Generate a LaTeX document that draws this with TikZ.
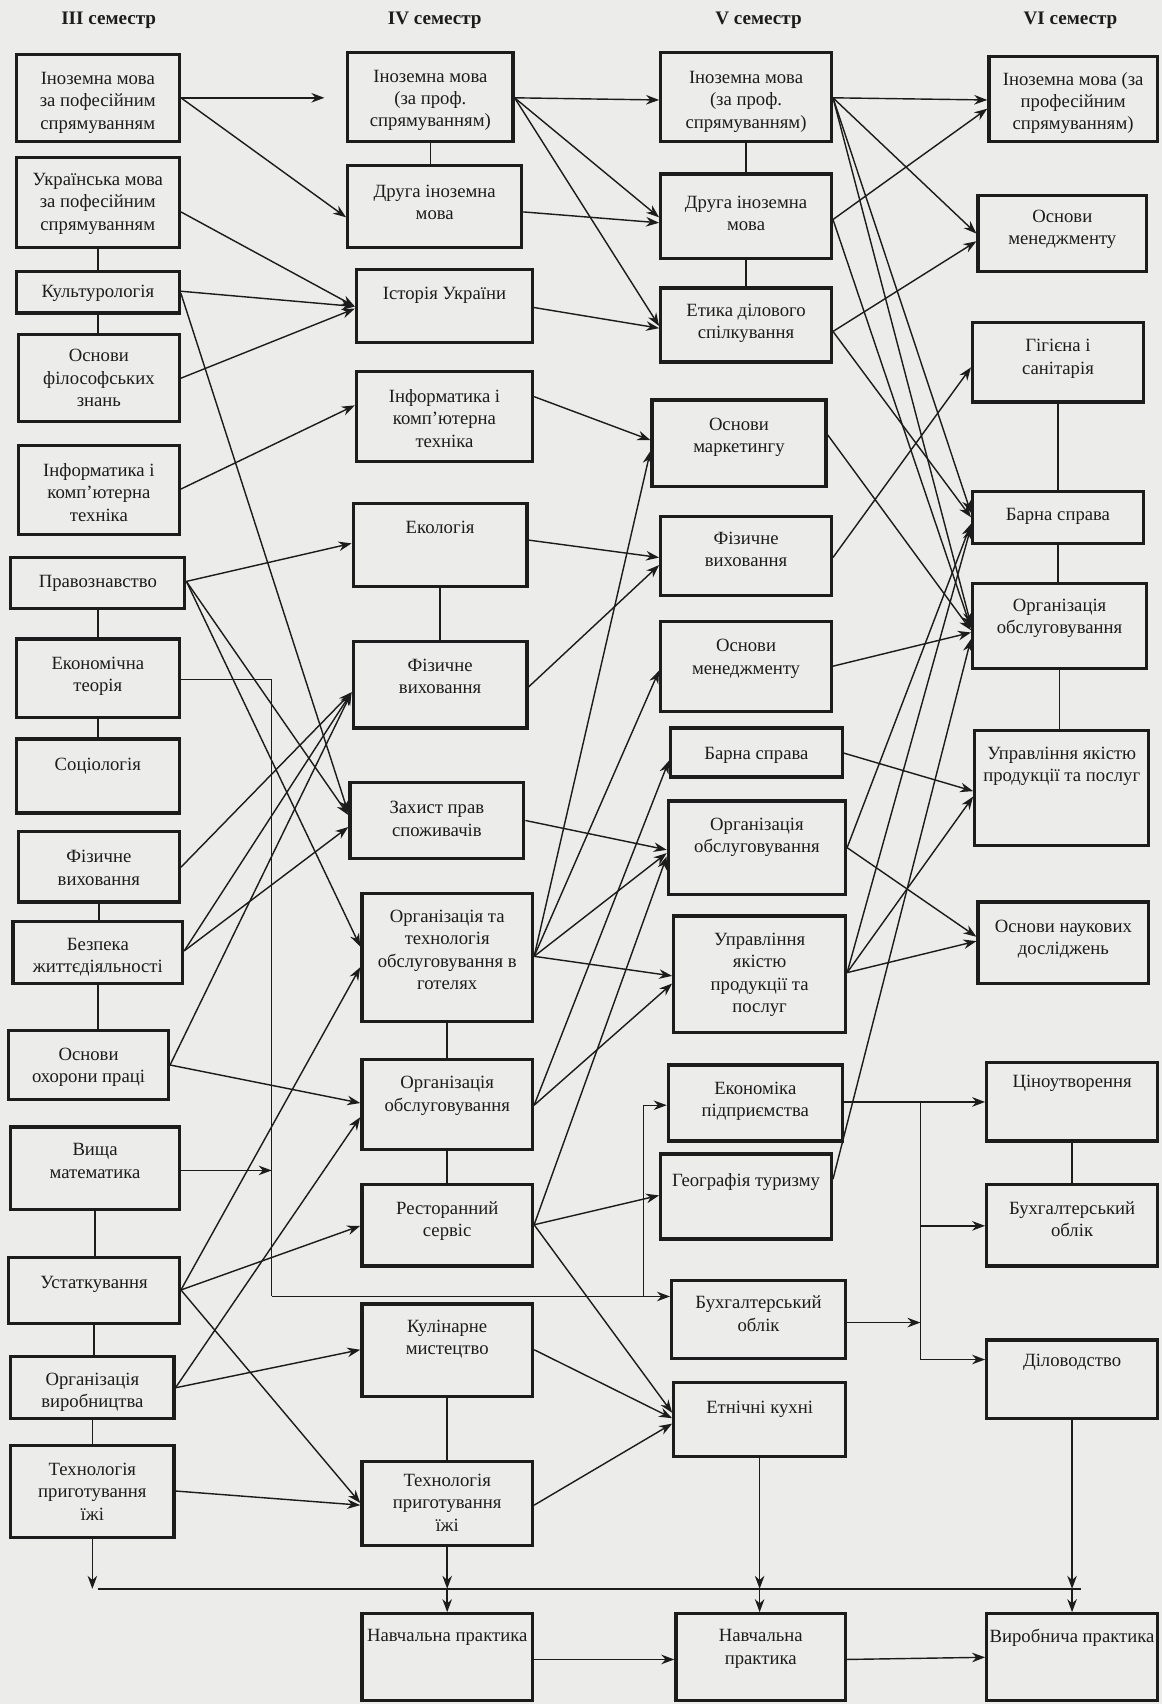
\documentclass[tikz,border=0pt]{standalone}
\usepackage{fontspec}
\setmainfont{Liberation Serif}
\usetikzlibrary{arrows.meta,calc}
\definecolor{bg}{RGB}{236,236,234}
\definecolor{ink}{RGB}{28,28,28}
\tikzset{
 box/.style={draw=ink, line width=1.5pt, inner sep=0pt, fill=bg, text=ink},
 arr/.style={draw=ink, line width=0.65pt, -{Stealth[length=6pt,width=4.4pt]}},
 link/.style={draw=ink, line width=0.65pt},
 hdr/.style={font=\bfseries\fontsize{8.8pt}{10pt}\selectfont, text=ink},
}
\newcommand\mybox[7]{%
 \pgfmathsetmacro\bw{(#4-#2)*0.5}%
 \pgfmathsetmacro\bh{(#5-#3)*0.5}%
 \pgfmathsetmacro\bp{max(0,(#6-#3)*0.5-2.8)}%
 \node[box] (#1) at ({(#2+#4)/2},{(#3+#5)/2}) {\parbox[c][\bh pt][t]{\bw pt}{\centering\fontsize{8.6pt}{10.3pt}\selectfont\vspace*{\bp pt}#7\par}};%
}
\begin{document}
\begin{tikzpicture}[x=0.5pt,y=-0.5pt]
\fill[bg] (0,0) rectangle (1069,1568);
\useasboundingbox (0,0) rectangle (1069,1568);

% headers
\node[hdr] (h3) at (100,19) {III семестр};
\node[hdr] (h4) at (400,19) {IV семестр};
\node[hdr] (h5) at (698,19) {V семестр};
\node[hdr] (h6) at (985,19) {VI семестр};

% III semester
\mybox{a1}{15}{50}{165}{130}{72}{Іноземна мова\\за пофесійним\\спрямуванням}
\mybox{a2}{15}{145}{165}{228}{165}{Українська мова\\за пофесійним\\спрямуванням}
\mybox{a3}{15}{250}{165}{288}{268}{Культурологія}
\mybox{a4}{17}{308}{165}{388}{327}{Основи\\філософських\\знань}
\mybox{a5}{17}{410}{165}{492}{432}{Інформатика і\\комп’ютерна\\техніка}
\mybox{a6}{10}{513}{170}{560}{535}{Правознавство}
\mybox{a7}{15}{588}{165}{660}{610}{Економічна\\теорія}
\mybox{a8}{15}{680}{165}{748}{703}{Соціологія}
\mybox{a9}{17}{765}{165}{830}{788}{Фізичне\\виховання}
\mybox{a10}{12}{848}{168}{905}{869}{Безпека\\життєдіяльності}
\mybox{a11}{8}{948}{155}{1012}{970}{Основи\\охорони праці}
\mybox{a12}{10}{1037}{165}{1113}{1058}{Вища\\математика}
\mybox{a13}{8}{1157}{165}{1218}{1180}{Устаткування}
\mybox{a14}{10}{1248}{160}{1305}{1269}{Організація\\виробництва}
\mybox{a15}{10}{1330}{160}{1415}{1352}{Технологія\\приготування\\їжі}

% IV semester
\mybox{b1}{320}{48}{472}{130}{70}{Іноземна мова\\(за проф.\\спрямуванням)}
\mybox{b2}{320}{152}{480}{228}{176}{Друга іноземна\\мова}
\mybox{b3}{328}{248}{490}{315}{270}{Історія України}
\mybox{b4}{328}{342}{490}{425}{364}{Інформатика і\\комп’ютерна\\техніка}
\mybox{b5}{325}{463}{485}{540}{485}{Екологія}
\mybox{b6}{325}{590}{485}{670}{612}{Фізичне\\виховання}
\mybox{b7}{322}{720}{482}{790}{743}{Захист прав\\споживачів}
\mybox{b8}{333}{822}{490}{940}{843}{Організація та\\технологія\\обслуговування в\\готелях}
\mybox{b9}{333}{975}{490}{1058}{996}{Організація\\обслуговування}
\mybox{b10}{333}{1090}{490}{1165}{1111}{Ресторанний\\сервіс}
\mybox{b11}{333}{1200}{490}{1285}{1220}{Кулінарне\\мистецтво}
\mybox{b12}{333}{1345}{490}{1422}{1362}{Технологія\\приготування\\їжі}
\mybox{b13}{333}{1485}{490}{1565}{1505}{Навчальна практика}

% V semester
\mybox{c1}{608}{48}{765}{130}{71}{Іноземна мова\\(за проф.\\спрямуванням)}
\mybox{c2}{608}{160}{765}{238}{186}{Друга іноземна\\мова}
\mybox{c3}{608}{265}{765}{333}{285}{Етика ділового\\спілкування}
\mybox{c4}{600}{368}{760}{448}{390}{Основи\\маркетингу}
\mybox{c5}{608}{475}{765}{548}{495}{Фізичне\\виховання}
\mybox{c6}{608}{572}{765}{655}{594}{Основи\\менеджменту}
\mybox{c7}{617}{670}{775}{715}{693}{Барна справа}
\mybox{c8}{615}{737}{778}{823}{758}{Організація\\обслуговування}
\mybox{c9}{620}{843}{778}{950}{864}{Управління\\якістю\\продукції та\\послуг}
\mybox{c10}{615}{980}{775}{1050}{1001}{Економіка\\підприємства}
\mybox{c11}{608}{1062}{765}{1140}{1085}{Географія туризму}
\mybox{c12}{618}{1178}{778}{1250}{1198}{Бухгалтерський\\облік}
\mybox{c13}{620}{1272}{778}{1340}{1295}{Етнічні кухні}
\mybox{c14}{622}{1485}{778}{1565}{1505}{Навчальна\\практика}

% VI semester
\mybox{d1}{910}{52}{1065}{130}{72}{Іноземна мова (за\\професійним\\спрямуванням)}
\mybox{d2}{900}{180}{1055}{250}{199}{Основи\\менеджменту}
\mybox{d3}{895}{297}{1052}{370}{318}{Гігієна і\\санітарія}
\mybox{d4}{895}{452}{1052}{500}{473}{Барна справа}
\mybox{d5}{895}{537}{1055}{615}{557}{Організація\\обслуговування}
\mybox{d6}{897}{672}{1057}{778}{693}{Управління якістю\\продукції та послуг}
\mybox{d7}{900}{830}{1057}{905}{852}{Основи наукових\\досліджень}
\mybox{d8}{908}{978}{1065}{1050}{995}{Ціноутворення}
\mybox{d9}{908}{1090}{1065}{1165}{1111}{Бухгалтерський\\облік}
\mybox{d10}{908}{1233}{1065}{1305}{1252}{Діловодство}
\mybox{d11}{908}{1485}{1065}{1565}{1505}{Виробнича практика}

% vertical links inside columns
\foreach \p/\q in {a2/a3,a3/a4,a6/a7,a7/a8,a9/a10,a10/a11,a12/a13,a13/a14,a14/a15,
                   b1/b2,b5/b6,b8/b9,b9/b10,b11/b12,
                   c1/c2,c2/c3,
                   d3/d4,d4/d5,d5/d6,d8/d9}
  \draw[link] (\p.south) -- (\p.south |- \q.north);

% III -> IV
\draw[arr, shorten >=10pt] (a1.east |- 0,90) -- (b1.west |- 0,90);
\draw[arr] (a1.east |- 0,90) -- (b2.west |- 0,200);
\draw[arr] (a2.east |- 0,195) -- (b3.west |- 0,282);
\draw[arr] (a3.east |- 0,268) -- (b3.west |- 0,282);
\draw[arr] (a4.east |- 0,348) -- (b3.west |- 0,284);
\draw[arr] (a3.east |- 0,270) -- (b7.west |- 0,748);
\draw[arr] (a5.east |- 0,450) -- (b4.west |- 0,373);
\draw[arr] (a6.east |- 0,535) -- (b5.west |- 0,500);
\draw[arr] (a6.east |- 0,535) -- (b7.west |- 0,750);
\draw[arr] (a6.east |- 0,535) -- (b8.west |- 0,871);
\draw[arr] (a9.east |- 0,798) -- (b6.west |- 0,637);
\draw[arr] (a10.east |- 0,875) -- (b6.west |- 0,637);
\draw[arr] (a10.east |- 0,875) -- (b7.west |- 0,761);
\draw[arr] (a11.east |- 0,980) -- (b6.west |- 0,637);
\draw[arr] (a11.east |- 0,980) -- (b9.west |- 0,1015);
\draw[arr] (a13.east |- 0,1187) -- (b8.west |- 0,890);
\draw[arr] (a13.east |- 0,1187) -- (b10.west |- 0,1128);
\draw[arr] (a13.east |- 0,1187) -- (b12.west |- 0,1383);
\draw[arr] (a14.east |- 0,1277) -- (b9.west |- 0,1028);
\draw[arr] (a14.east |- 0,1277) -- (b11.west |- 0,1242);
\draw[arr] (a15.east |- 0,1372) -- (b12.west |- 0,1385);

% Economic theory routed line
\coordinate (ev) at (250,625);
\coordinate (eb) at (250,1193);
\coordinate (eu) at (592,1193);
\coordinate (ek) at (592,1017);
\coordinate (vm) at (250,1077);
\draw[link] (a7.east |- ev) -- (ev) -- (eb);
\draw[arr] (eb) -- (c12.west |- eb);
\draw[arr] (eu) -- (ek) -- (c10.west |- ek);
\draw[arr] (a12.east |- vm) -- (vm);

% IV -> V
\draw[arr] (b1.east |- 0,90) -- (c1.west |- 0,92);
\draw[arr] (b1.east |- 0,90) -- (c2.west |- 0,200);
\draw[arr] (b1.east |- 0,90) -- (c3.west |- 0,300);
\draw[arr] (b2.east |- 0,195) -- (c2.west |- 0,205);
\draw[arr] (b3.east |- 0,283) -- (c3.west |- 0,302);
\draw[arr] (b4.east |- 0,365) -- (c4.west |- 0,405);
\draw[arr] (b5.east |- 0,497) -- (c5.west |- 0,513);
\draw[arr] (b6.east |- 0,632) -- (c5.west |- 0,520);
\draw[arr] (b7.east |- 0,755) -- (c8.west |- 0,782);
\draw[arr] (b8.east |- 0,880) -- (c4.west |- 0,415);
\draw[arr] (b8.east |- 0,880) -- (c6.west |- 0,617);
\draw[arr] (b8.east |- 0,880) -- (c8.west |- 0,785);
\draw[arr] (b8.east |- 0,880) -- (c9.west |- 0,898);
\draw[arr] (b9.east |- 0,1017) -- (c7.west |- 0,700);
\draw[arr] (b9.east |- 0,1017) -- (c9.west |- 0,905);
\draw[arr] (b10.east |- 0,1127) -- (c8.west |- 0,788);
\draw[arr] (b10.east |- 0,1127) -- (c11.west |- 0,1100);
\draw[arr] (b10.east |- 0,1127) -- (c13.west |- 0,1300);
\draw[arr] (b11.east |- 0,1242) -- (c13.west |- 0,1305);
\draw[arr] (b12.east |- 0,1385) -- (c13.west |- 0,1310);
\draw[arr] (b13.east |- 0,1527) -- (c14.west |- 0,1527);

% V -> VI
\draw[arr] (c1.east |- 0,90) -- (d1.west |- 0,92);
\draw[arr] (c1.east |- 0,90) -- (d2.west |- 0,215);
\draw[arr] (c1.east |- 0,90) -- (d4.west |- 0,472);
\draw[arr] (c1.east |- 0,90) -- (d5.west |- 0,575);
\draw[arr] (c2.east |- 0,202) -- (d1.west |- 0,100);
\draw[arr] (c2.east |- 0,202) -- (d5.west |- 0,578);
\draw[arr] (c3.east |- 0,305) -- (d2.west |- 0,222);
\draw[arr] (c3.east |- 0,305) -- (d4.west |- 0,476);
\draw[arr] (c4.east |- 0,400) -- (d5.west |- 0,580);
\draw[arr] (c5.east |- 0,513) -- (d3.west |- 0,338);
\draw[arr] (c6.east |- 0,613) -- (d5.west |- 0,582);
\draw[arr] (c7.east |- 0,693) -- (d6.west |- 0,728);
\draw[arr] (c8.east |- 0,780) -- (d4.west |- 0,482);
\draw[arr] (c8.east |- 0,780) -- (d7.west |- 0,862);
\draw[arr] (c9.east |- 0,895) -- (d4.west |- 0,485);
\draw[arr] (c9.east |- 0,895) -- (d6.west |- 0,733);
\draw[arr] (c9.east |- 0,895) -- (d7.west |- 0,866);
\draw[arr] (c11.east |- 0,1085) -- (d5.west |- 0,588);

% Economics branch
\coordinate (pb) at (847,1014);
\coordinate (pm) at (847,1128);
\coordinate (pc) at (847,1217);
\coordinate (pe) at (847,1251);
\draw[arr] (c10.east |- pb) -- (d8.west |- pb);
\draw[link] (pb) -- (pe);
\draw[arr] (pm) -- (d9.west |- pm);
\draw[arr] (pe) -- (d10.west |- pe);
\draw[arr] (c12.east |- pc) -- (pc);

% bottom collector line
\coordinate (bl) at (90,1462);
\coordinate (br) at (995,1462);
\draw[link] (bl) -- (br);
\draw[arr] (a15.south) -- (a15.south |- bl);
\draw[arr] (b12.south) -- (b12.south |- bl);
\draw[arr] (b12.south |- bl) -- (b13.north);
\draw[arr] (c13.south) -- (c13.south |- bl);
\draw[arr] (c13.south |- bl) -- (c13.south |- c14.north);
\draw[arr] (d10.south) -- (d10.south |- bl);
\draw[arr] (d10.south |- bl) -- (d11.north);
\draw[arr] (c14.east |- 0,1527) -- (d11.west |- 0,1525);
\end{tikzpicture}
\end{document}
